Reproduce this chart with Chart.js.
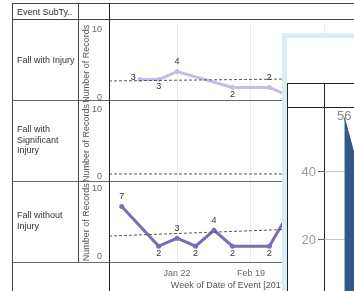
<!DOCTYPE html>
<html>
<head>
<meta charset="utf-8">
<script src="https://cdn.jsdelivr.net/npm/chart.js@4.4.1/dist/chart.umd.min.js"></script>
<style>
  body { margin: 0; width: 354px; height: 291px; overflow: hidden; background: #fff; position: relative;
         font-family: "Liberation Sans", Arial, sans-serif; }
  .ln { position: absolute; background: #444; }
  .txt { position: absolute; font-size: 9px; color: #333; line-height: 10.5px; white-space: nowrap; }
  #main { position: absolute; left: 78px; top: 20px; }
  #pop { position: absolute; left: 282px; top: 33px; width: 100px; height: 300px; background: #fff;
         border: 5px solid #d9edf4; }
  #popChart { position: absolute; left: 288px; top: 108px; }
  .pl { position: absolute; background: #222; }
</style>
</head>
<body>

<canvas id="main" width="276" height="271"></canvas>

<!-- table frame -->
<div class="ln" style="left:12px;top:3px;width:342px;height:1px"></div>
<div class="ln" style="left:12px;top:19px;width:342px;height:1px"></div>
<div class="ln" style="left:12px;top:100px;width:342px;height:1px;background:#666"></div>
<div class="ln" style="left:12px;top:181px;width:342px;height:1px;background:#666"></div>
<div class="ln" style="left:12px;top:262px;width:342px;height:1px;background:#666"></div>
<div class="ln" style="left:12px;top:3px;width:1px;height:288px"></div>
<div class="ln" style="left:78px;top:3px;width:1px;height:259px"></div>
<div class="ln" style="left:109px;top:3px;width:1px;height:288px;background:#222"></div>

<div class="txt" style="left:17px;top:7px">Event SubTy..</div>
<div class="txt" style="left:17px;top:55px">Fall with Injury</div>
<div class="txt" style="left:17px;top:124px">Fall with<br>Significant<br>Injury</div>
<div class="txt" style="left:17px;top:210px">Fall without<br>Injury</div>

<!-- tooltip overlay -->
<div id="pop"></div>
<div class="pl" style="left:287px;top:83px;width:67px;height:1px"></div>
<div class="pl" style="left:287px;top:107px;width:67px;height:1px"></div>
<div class="pl" style="left:287px;top:83px;width:1px;height:208px"></div>
<div class="pl" style="left:324px;top:83px;width:1px;height:208px"></div>
<canvas id="popChart" width="66" height="200"></canvas>

<script>
/*=========================================
DATA
=========================================*/

const weekLabels = ["Jan 1", "Jan 8", "Jan 15", "Jan 22", "Jan 29", "Feb 5",
                    "Feb 12", "Feb 19", "Feb 26", "Mar 5", "Mar 12", "Mar 19"];
const tickLabels = ["Jan 22", "Feb 19", "Mar 19"];
const rowTicks = [0, 5, 10];

const fallWithInjury      = [null, 3, 3, 4, null, null, 2, null, 2, 1, null, null];
const fallWithSignificant = [null, null, null, null, null, null, null, null, null, null, null, null];
const fallWithoutInjury   = [7, null, 2, 3, 2, 4, 2, null, 2, 6, null, null];

// trend line values at the left and right edge of the plot
const trendWithInjury      = [2.82, 3.15];
const trendWithSignificant = [1.1, 1.1];
const trendWithoutInjury   = [3.27, 4.41];

const popValues = [56, 35];
const popTicks = [0, 20, 40];

/*=========================================
HELPERS
=========================================*/

const FONT = "'Liberation Sans', Arial, sans-serif";
Chart.defaults.font.family = FONT;
Chart.defaults.animation = false;

const X_MIN = -0.69;
const X_MAX = 12.37;

const toPoints = values => values.map((v, i) => ({ x: i, y: v }));
const toTrend = ends => [{ x: X_MIN, y: ends[0] }, { x: X_MAX, y: ends[1] }];

const pointLabels = {
    id: "pointLabels",
    afterDatasetsDraw(chart) {
        const ctx = chart.ctx;
        chart.data.datasets.forEach((ds, i) => {
            if (!ds.labelPos) return;
            const meta = chart.getDatasetMeta(i);
            ctx.save();
            ctx.font = ds.labelFont || "9px " + FONT;
            ctx.fillStyle = ds.labelColor || "#333";
            ctx.textAlign = "center";
            ctx.textBaseline = "middle";
            meta.data.forEach((pt, j) => {
                const v = ds.data[j].y;
                if (v == null) return;
                let dx = 0, dy = -10;
                const pos = ds.labelPos[j];
                if (pos === "b") dy = 7;
                if (pos === "l") { dx = -7; dy = -2; }
                if (pos === "c") dy = -1;
                ctx.fillText(String(v), pt.x + dx, pt.y + dy);
            });
            ctx.restore();
        });
    }
};

function rowAxis() {
    return {
        type: "linear",
        position: "left",
        stack: "rows",
        stackWeight: 1,
        min: 0,
        max: 10,
        afterBuildTicks: s => { s.ticks = rowTicks.map(v => ({ value: v })); },
        afterFit: s => { s.width = 31; s.paddingTop = 0; s.paddingBottom = 0; },
        ticks: {
            color: "#666",
            font: { size: 9, lineHeight: 1.3 },
            padding: 1,
            callback: v => v === 0 ? [String(v), ""] : v === 10 ? ["", String(v)] : String(v)
        },
        grid: {
            color: c => c.tick && c.tick.value === 5 ? "#ececec" : "rgba(0,0,0,0)",
            tickColor: c => c.tick && c.tick.value === 5 ? "#999" : "rgba(0,0,0,0)",
            tickLength: 6
        },
        border: { display: false },
        title: {
            display: true,
            text: "Number of Records",
            color: "#555",
            font: { size: 9 },
            padding: { top: 3, bottom: 0 }
        }
    };
}

function seriesLine(values, axis, color, labelPos) {
    return {
        data: toPoints(values),
        yAxisID: axis,
        borderColor: color,
        backgroundColor: color,
        borderWidth: 3,
        pointRadius: 2.5,
        pointBorderWidth: 0,
        spanGaps: true,
        labelPos: labelPos
    };
}

function trendLine(ends, axis) {
    return {
        data: toTrend(ends),
        yAxisID: axis,
        borderColor: "#555",
        borderWidth: 1,
        borderDash: [3, 2],
        pointRadius: 0
    };
}

/*=========================================
MAIN CHART
=========================================*/

new Chart(document.getElementById("main"), {
    type: "line",
    data: {
        datasets: [
            trendLine(trendWithInjury, "yInjury"),
            trendLine(trendWithSignificant, "ySignificant"),
            trendLine(trendWithoutInjury, "yWithout"),
            seriesLine(fallWithInjury, "yInjury", "#c5bcec",
                [null, "l", "b", "a", null, null, "b", null, "a", "a"]),
            seriesLine(fallWithSignificant, "ySignificant", "#7b6eb3", []),
            seriesLine(fallWithoutInjury, "yWithout", "#7b6eb3",
                ["a", null, "b", "a", "b", "a", "b", null, "b", "a"])
        ]
    },
    options: {
        responsive: false,
        layout: { padding: 0 },
        plugins: { legend: { display: false }, tooltip: { enabled: false } },
        scales: {
            x: {
                type: "linear",
                min: X_MIN,
                max: X_MAX,
                afterBuildTicks: s => { s.ticks = tickLabels.map(l => ({ value: weekLabels.indexOf(l) })); },
                afterFit: s => { s.height = 29; s.paddingLeft = 0; s.paddingRight = 0; },
                ticks: {
                    color: "#666",
                    font: { size: 9 },
                    padding: 6,
                    maxRotation: 0,
                    autoSkip: false,
                    callback: v => weekLabels[v]
                },
                grid: { color: "#ebebeb", drawTicks: false },
                border: { display: false },
                title: {
                    display: true,
                    text: "Week of Date of Event [2017]",
                    color: "#555",
                    font: { size: 9 },
                    padding: { top: 0, bottom: 0 }
                }
            },
            // stacked rows are placed bottom first
            yWithout: rowAxis(),
            ySignificant: rowAxis(),
            yInjury: rowAxis()
        }
    },
    plugins: [pointLabels]
});

/*=========================================
OVERLAY CHART
=========================================*/

new Chart(document.getElementById("popChart"), {
    type: "line",
    data: {
        datasets: [{
            data: toPoints(popValues),
            borderColor: "#2d5a89",
            backgroundColor: "#2d5a89",
            borderWidth: 1,
            pointRadius: 0,
            fill: "origin",
            labelPos: ["c"],
            labelFont: "13px " + FONT,
            labelColor: "#8a8a8a"
        }]
    },
    options: {
        responsive: false,
        layout: { padding: 0 },
        plugins: { legend: { display: false }, tooltip: { enabled: false } },
        scales: {
            x: { type: "linear", display: false, min: -1, max: 0.5 },
            y: {
                min: 0,
                max: 58.8,
                afterBuildTicks: s => { s.ticks = popTicks.map(v => ({ value: v })); },
                afterFit: s => { s.width = 37; s.paddingTop = 0; s.paddingBottom = 0; },
                ticks: { color: "#999", font: { size: 13 }, padding: 2 },
                grid: { color: "#c8c8c8", tickColor: "#666", tickLength: 7 },
                border: { display: false }
            }
        }
    },
    plugins: [pointLabels]
});
</script>
</body>
</html>
